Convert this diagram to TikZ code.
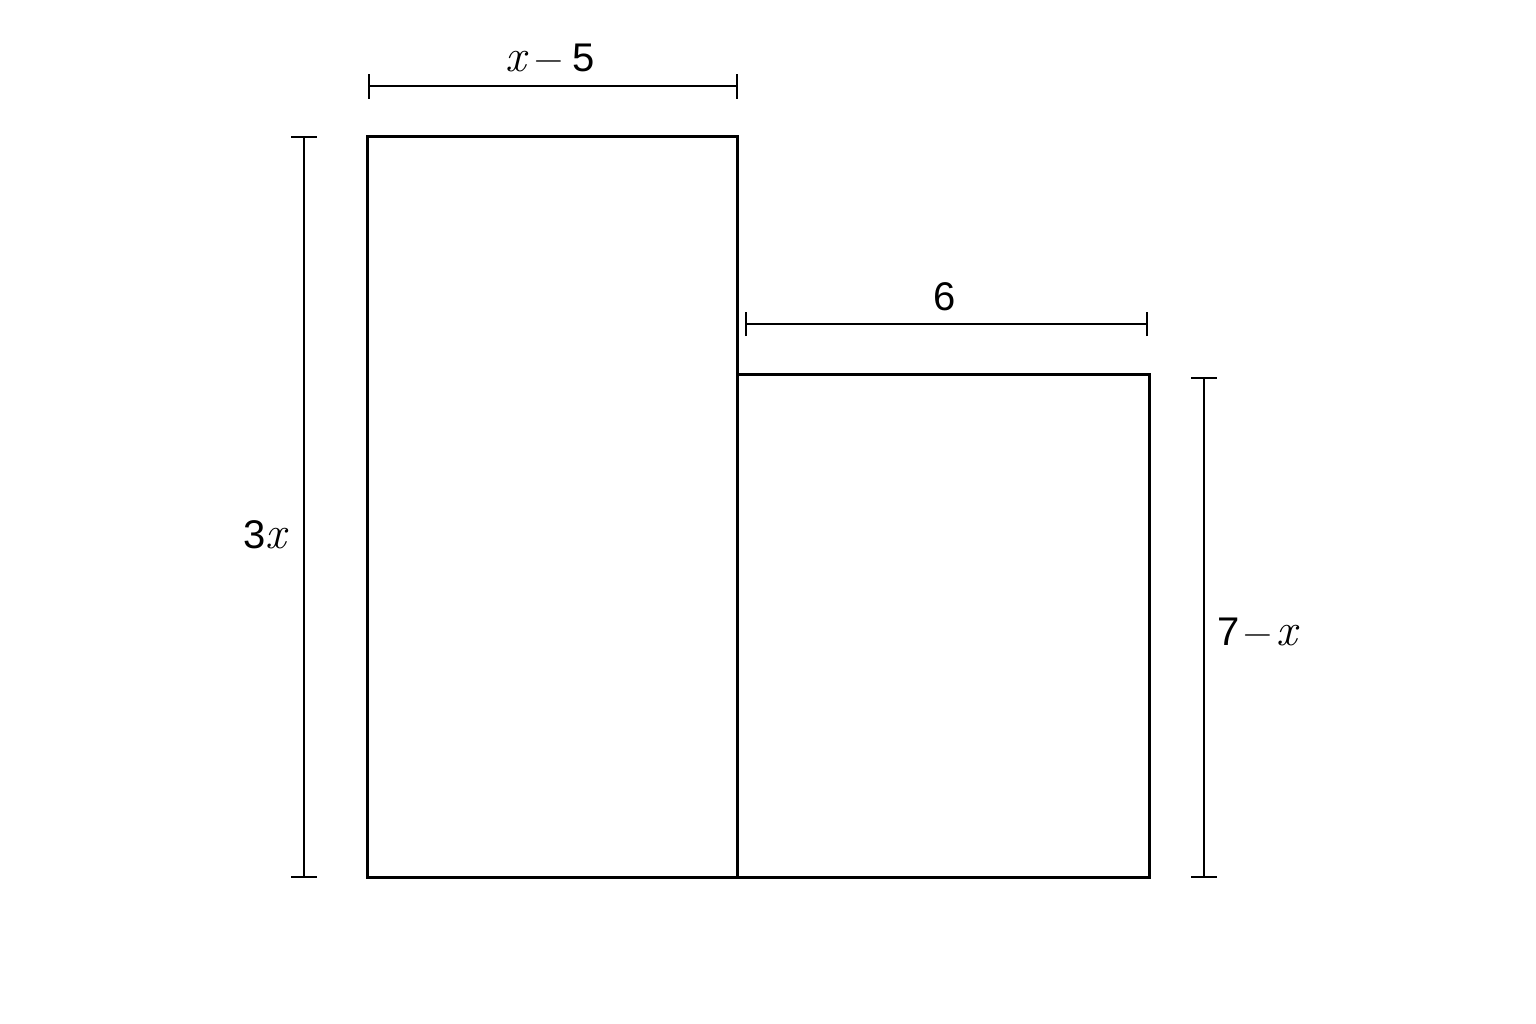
\documentclass[tikz,border=0pt]{standalone}
\usepackage{fontspec}
\setmainfont{Liberation Sans}
\newfontfamily\lmfont{Latin Modern Roman}
\newcommand{\vx}{{\lmfont\fontsize{46}{50}\selectfont\itshape x}}
\newcommand{\mn}[1]{\hspace{#1}{\lmfont\char"2212}\hspace{#1}}
\begin{document}
\begin{tikzpicture}[x=1pt,y=-1pt,
  outline/.style={line width=3pt,line join=miter},
  dimline/.style={line width=2.2pt},
  dimlabel/.style={inner sep=0pt,font=\fontsize{40}{48}\selectfont}]
\useasboundingbox[fill=white] (0,0) rectangle (1536,1024);
% rectangles
\coordinate (LTL) at (367,137);
\coordinate (LBR) at (737,877);
\coordinate (RTL) at (737,374);
\coordinate (RBR) at (1149,877);
\draw[outline] (LTL) rectangle (LBR);
\draw[outline] (RTL) rectangle (RBR);
% top dimension x-5
\coordinate (a1) at (369,86);
\coordinate (a2) at (737,86);
\draw[dimline] (a1) -- (a2);
\draw[dimline] ([yshift=-13]a1) -- ([yshift=12]a1);
\draw[dimline] ([yshift=-13]a2) -- ([yshift=12]a2);
\node[dimlabel] (lab1) at (550,58) {\vx\mn{9pt}5};
% dimension 6
\coordinate (b1) at (746,324);
\coordinate (b2) at (1147,324);
\draw[dimline] (b1) -- (b2);
\draw[dimline] ([yshift=-12]b1) -- ([yshift=12]b1);
\draw[dimline] ([yshift=-12]b2) -- ([yshift=12]b2);
\node[dimlabel] (lab2) at (945,297) {6};
% dimension 3x
\coordinate (c1) at (304,137);
\coordinate (c2) at (304,877);
\draw[dimline] (c1) -- (c2);
\draw[dimline] ([xshift=-13]c1) -- ([xshift=13]c1);
\draw[dimline] ([xshift=-13]c2) -- ([xshift=13]c2);
\node[dimlabel] (lab3) at (265,535) {3\vx};
% dimension 7-x
\coordinate (d1) at (1204,378);
\coordinate (d2) at (1204,877);
\draw[dimline] (d1) -- (d2);
\draw[dimline] ([xshift=-13]d1) -- ([xshift=13]d1);
\draw[dimline] ([xshift=-13]d2) -- ([xshift=13]d2);
\node[dimlabel] (lab4) at (1257,632) {7\mn{4pt}\vx};
\end{tikzpicture}
\end{document}
